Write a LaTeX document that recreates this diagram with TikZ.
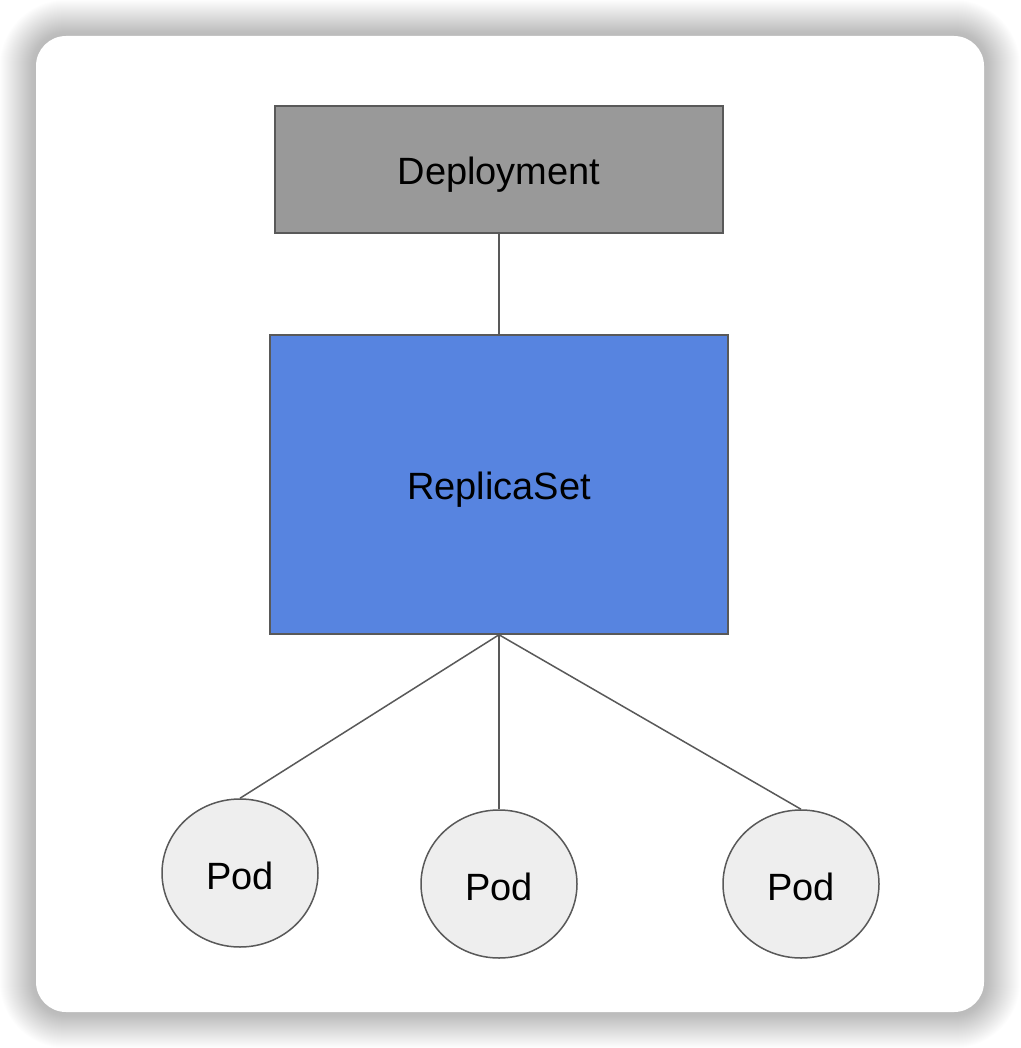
\documentclass[tikz,border=0pt]{standalone}
\usepackage{fontspec}
\setmainfont{Liberation Sans}
\usetikzlibrary{shapes.geometric,positioning}
\definecolor{depgray}{RGB}{153,153,153}
\definecolor{rsblue}{RGB}{87,132,224}
\definecolor{podgray}{RGB}{238,238,238}
\definecolor{edgegray}{RGB}{89,89,89}

\begin{document}
\begin{tikzpicture}[x=1pt,y=-1pt,every node/.style={font=\fontsize{38}{44}\selectfont},
    box/.style={draw=edgegray,line width=1.5pt,inner sep=0pt,text height=34pt,text depth=4pt},
    pod/.style={ellipse,draw=edgegray,line width=1.5pt,fill=podgray,
                minimum width=156pt,minimum height=148pt,inner sep=0pt,
                text height=32pt,text depth=0pt},
    link/.style={draw=edgegray,line width=1.5pt}]
  \useasboundingbox (0,0) rectangle (1020,1048);
  % soft shadow round the card
  \foreach \s [evaluate=\s as \r using 30+\s] in {36,35,...,0}
    \fill[black,opacity=0.0062,rounded corners=\r pt] (36-\s,36-\s) rectangle (984+\s,1012+\s);
  \fill[white,rounded corners=30pt] (36,36) rectangle (984,1012);
  \node[box,fill=depgray,minimum width=448pt,minimum height=127pt] (deploy) at (499,169.5) {Deployment};
  \node[box,fill=rsblue,minimum width=458pt,minimum height=299pt] (rs) at (499,484.5) {ReplicaSet};
  \node[pod] (pod1) at (240,873) {Pod};
  \node[pod] (pod2) at (499,884) {Pod};
  \node[pod] (pod3) at (801,884) {Pod};
  \draw[link] (deploy) -- (rs);
  \foreach \p in {pod1,pod2,pod3}
    \draw[link] (rs.south) -- (\p.north);
\end{tikzpicture}
\end{document}
